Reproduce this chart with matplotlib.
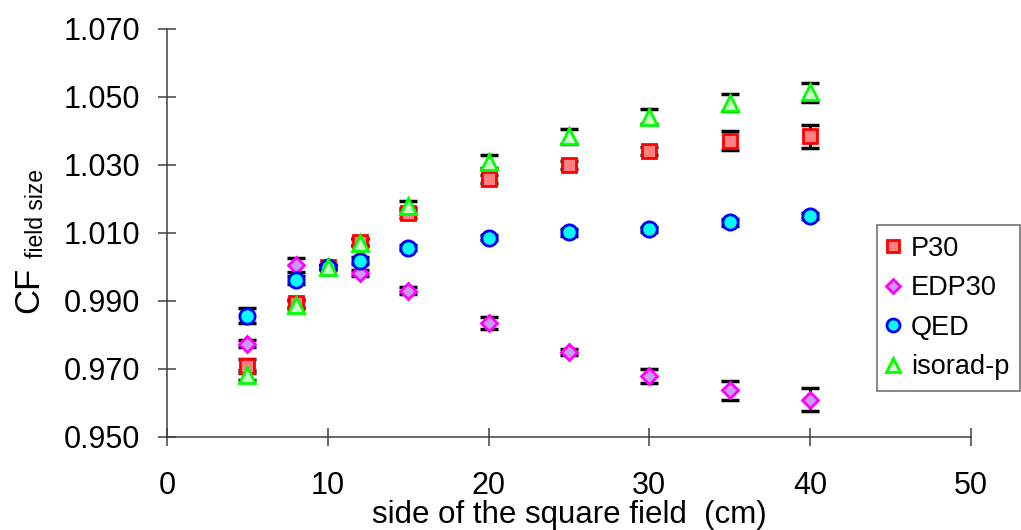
import matplotlib
matplotlib.use('Agg')
import matplotlib.pyplot as plt

plt.rcParams['font.family'] = ['Liberation Sans', 'DejaVu Sans']

# field side (cm)
side = [5, 8, 10, 12, 15, 20, 25, 30, 35, 40]

p30 = [0.9708, 0.9893, 1.0000, 1.0075, 1.0158, 1.0260, 1.0301, 1.0340, 1.0371, 1.0384]
p30_err = [0.0020, 0.0012, 0.0005, 0.0010, 0.0015, 0.0012, 0.0012, 0.0012, 0.0028, 0.0035]

edp30 = [0.9774, 1.0006, 1.0000, 0.9982, 0.9930, 0.9835, 0.9750, 0.9680, 0.9638, 0.9610]
edp30_err = [0.0010, 0.0020, 0.0005, 0.0008, 0.0010, 0.0018, 0.0010, 0.0020, 0.0028, 0.0033]

qed = [0.9857, 0.9962, 1.0000, 1.0019, 1.0057, 1.0086, 1.0102, 1.0111, 1.0132, 1.0150]
qed_err = [0.0023, 0.0012, 0.0005, 0.0010, 0.0008, 0.0008, 0.0010, 0.0008, 0.0010, 0.0008]

iso = [0.9682, 0.9888, 1.0000, 1.0072, 1.0180, 1.0310, 1.0385, 1.0442, 1.0483, 1.0514]
iso_err = [0.0015, 0.0012, 0.0005, 0.0010, 0.0015, 0.0018, 0.0022, 0.0022, 0.0025, 0.0028]

series = [
    ('P30', p30, p30_err, 's', 10.5, '#FF8080', '#FF0000'),
    ('EDP30', edp30, edp30_err, 'D', 8, '#CC99FF', '#FF00FF'),
    ('QED', qed, qed_err, 'o', 11, '#00FFFF', '#0000FF'),
    ('isorad-p', iso, iso_err, '^', 12, '#CCFFCC', '#00FF00'),
]

W, H = 1021, 530
fig = plt.figure(figsize=(W / 100, H / 100), dpi=100)
ax = fig.add_axes([167 / W, 1 - 437 / H, (971 - 167) / W, (437 - 29) / H])

handles = []
for i, (name, y, err, mk, ms, fc, ec) in enumerate(series):
    ax.errorbar(side, y, yerr=err, fmt='none', ecolor='black',
                elinewidth=2, capsize=6.5, capthick=2.5, zorder=2)
    h, = ax.plot(side, y, linestyle='none', marker=mk, markersize=ms,
                 markerfacecolor=fc, markeredgecolor=ec, markeredgewidth=2,
                 zorder=3 + i, label=name)
    handles.append(h)

ax.set_xlim(0, 50)
ax.set_ylim(0.950, 1.070)
ax.set_xticks([0, 10, 20, 30, 40, 50])
ax.set_yticks([0.950, 0.970, 0.990, 1.010, 1.030, 1.050, 1.070])
ax.set_yticklabels(['%.3f' % v for v in ax.get_yticks()])

for s in ['top', 'right']:
    ax.spines[s].set_visible(False)
for s in ['left', 'bottom']:
    ax.spines[s].set_color('#404040')
    ax.spines[s].set_linewidth(1.1)

ax.tick_params(axis='both', direction='inout', length=13, width=1.1,
               color='#404040', labelsize=22, labelcolor='black')
ax.tick_params(axis='y', pad=12.5)
ax.tick_params(axis='x', pad=18)

# x label, baseline placed like the reference
fig.text(569 / W, 1 - 523 / H, 'side of the square field  (cm)', fontsize=22.5,
         ha='center', va='baseline')

# y label with small subscript (rotated, anchored on baseline)
fig.text(38 / W, 1 - 290 / H, 'CF', rotation=90, fontsize=25,
         ha='center', va='baseline', rotation_mode='anchor')
fig.text(43 / W, 1 - 213 / H, 'field size', rotation=90, fontsize=16.5,
         ha='center', va='baseline', rotation_mode='anchor')

leg = fig.legend(handles=handles, loc='upper left',
                 bbox_to_anchor=(877 / W, 1 - 225 / H), borderaxespad=0,
                 fontsize=19.5, frameon=True, fancybox=False,
                 handlelength=0.4, handletextpad=0.45, labelspacing=0.5,
                 borderpad=0.4, numpoints=1)
leg.get_frame().set_edgecolor('#404040')
leg.get_frame().set_linewidth(1.1)
for lh in leg.legend_handles:
    lh.set_markersize(lh.get_markersize() * 0.85)

fig.savefig('out.png', dpi=100)
